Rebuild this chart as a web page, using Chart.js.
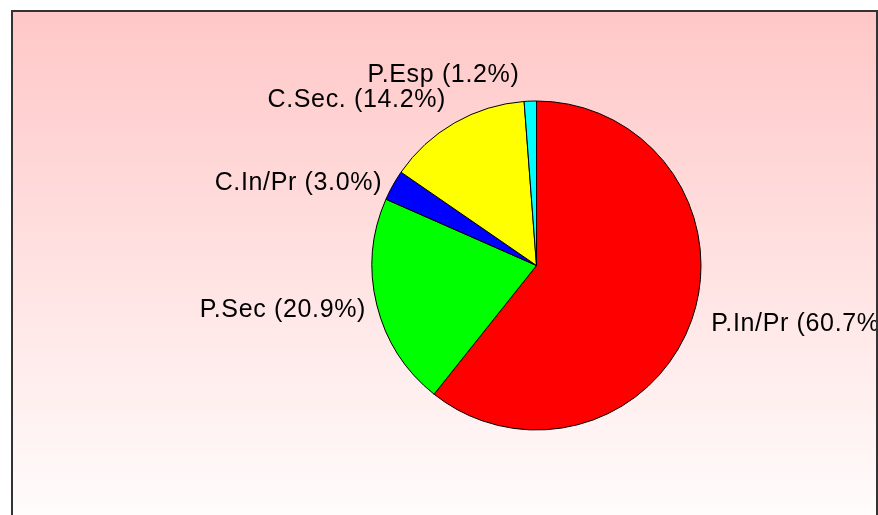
<!DOCTYPE html>
<html><head><meta charset="utf-8">
<script src="https://cdn.jsdelivr.net/npm/chart.js@4/dist/chart.umd.min.js"></script>
<style>html,body{margin:0;padding:0;background:#fff;}canvas{display:block;}</style>
</head><body>
<canvas id="c" width="878" height="515"></canvas>
<script>
const categories = ['P.In/Pr', 'P.Sec', 'C.In/Pr', 'C.Sec.', 'P.Esp'];
const values = [60.7, 20.9, 3.0, 14.2, 1.2];
const colors = ['#FF0000', '#00FF00', '#0000FF', '#FFFF00', '#00FFFF'];
// label nudges (style only): [dx, dy] from anchor point just outside the arc
const labelNudge = [[10, 8], [-1, 9.5], [-2, 10], [-3.5, -7], [-10.5, -9]];

const bgPlugin = {
  id: 'bg',
  beforeDraw(chart) {
    const ctx = chart.ctx;
    ctx.save();
    const g = ctx.createLinearGradient(0, 11, 0, 545);
    g.addColorStop(0, '#FFC7C7');
    g.addColorStop(1, '#FFFFFF');
    ctx.fillStyle = g;
    ctx.fillRect(12, 11, 865, 520);
    ctx.strokeStyle = '#333333';
    ctx.lineWidth = 2;
    ctx.strokeRect(12, 11, 865, 520);
    ctx.restore();
  }
};

const labelPlugin = {
  id: 'labels',
  afterDatasetsDraw(chart) {
    const ctx = chart.ctx;
    const meta = chart.getDatasetMeta(0);
    ctx.save();
    ctx.beginPath();
    ctx.rect(13, 12, 863, 510);
    ctx.clip();
    ctx.font = '25px "Liberation Sans", Arial, sans-serif';
    if ('letterSpacing' in ctx) ctx.letterSpacing = '0.65px';
    ctx.fillStyle = '#000';
    ctx.textBaseline = 'alphabetic';
    meta.data.forEach((arc, i) => {
      const p = arc.getProps(['x', 'y', 'startAngle', 'endAngle', 'outerRadius'], true);
      const mid = (p.startAngle + p.endAngle) / 2;
      const r = p.outerRadius + 10;
      const ax = p.x + Math.cos(mid) * r;
      const ay = p.y + Math.sin(mid) * r;
      const right = Math.cos(mid) > 0;
      ctx.textAlign = right ? 'left' : 'right';
      const txt = categories[i] + ' (' + values[i].toFixed(1) + '%)';
      ctx.fillText(txt, ax + labelNudge[i][0], ay + labelNudge[i][1]);
    });
    ctx.restore();
  }
};

new Chart(document.getElementById('c'), {
  type: 'pie',
  data: {
    labels: categories,
    datasets: [{
      data: values,
      backgroundColor: colors,
      borderColor: '#000000',
      borderWidth: 1
    }]
  },
  options: {
    responsive: false,
    animation: false,
    layout: { padding: { left: 371.5, right: 176.5, top: 100.5, bottom: 84.5 } },
    plugins: { legend: { display: false }, tooltip: { enabled: false } }
  },
  plugins: [bgPlugin, labelPlugin]
});
</script>
</body></html>
